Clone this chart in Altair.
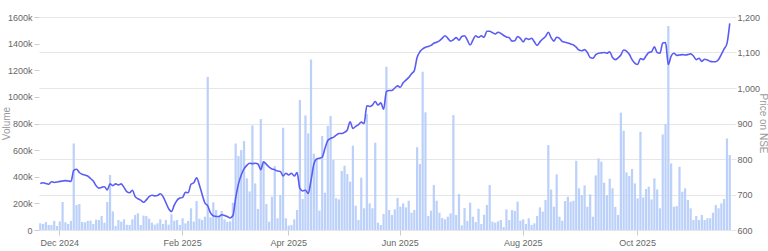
import altair as alt
import pandas as pd

# NSE trading calendar (first day, last day, exchange holidays)
first_day = "2024-11-21"
last_day = "2025-11-21"
holidays = ["2024-12-25", "2025-02-26", "2025-03-14", "2025-03-31", "2025-04-10",
            "2025-04-14", "2025-04-18", "2025-05-01", "2025-08-15", "2025-08-27",
            "2025-10-02", "2025-10-21", "2025-10-22", "2025-11-05"]

# daily traded volume, in thousands of shares
volume_k = [
    50, 45, 60, 38, 38, 68, 30, 65, 210, 58,
    45, 68, 650, 188, 195, 60, 58, 68, 70, 45,
    78, 75, 105, 55, 210, 413, 140, 30, 75, 63,
    80, 40, 38, 80, 113, 125, 38, 108, 105, 85,
    55, 40, 50, 80, 45, 75, 40, 118, 70, 75,
    38, 88, 50, 68, 163, 63, 218, 85, 75, 100,
    1150, 95, 208, 150, 100, 143, 80, 62, 65, 205,
    650, 555, 600, 668, 388, 290, 785, 350, 158, 833,
    515, 195, 63, 250, 480, 88, 263, 768, 88, 33,
    38, 80, 150, 976, 233, 861, 726, 1281, 573, 533,
    145, 706, 280, 781, 856, 526, 238, 230, 443, 483,
    420, 363, 633, 183, 75, 393, 163, 870, 200, 163,
    656, 55, 38, 120, 1226, 150, 113, 155, 240, 175,
    200, 170, 220, 130, 150, 621, 496, 1189, 884, 105,
    145, 338, 220, 130, 90, 80, 100, 125, 863, 113,
    270, 35, 165, 68, 205, 100, 60, 160, 45, 115,
    188, 338, 63, 55, 65, 75, 22, 155, 75, 150,
    143, 213, 70, 80, 45, 88, 38, 50, 105, 170,
    138, 225, 638, 305, 175, 418, 100, 70, 218, 250,
    213, 220, 520, 313, 263, 335, 175, 268, 100, 410,
    538, 513, 355, 263, 385, 313, 173, 113, 881, 746,
    433, 405, 458, 350, 238, 738, 245, 308, 325, 230,
    388, 305, 163, 718, 796, 1532, 500, 175, 180, 475,
    288, 313, 225, 163, 75, 105, 75, 113, 75, 88,
    88, 130, 188, 163, 200, 233, 688, 563,
]

# closing price on NSE
price = [
    731, 733, 731, 729, 736, 734, 735, 737, 738, 739,
    738, 737, 768, 771, 762, 757, 755, 752, 745, 738,
    725, 718, 720, 722, 713, 730, 725, 730, 727, 730,
    720, 708, 705, 712, 694, 688, 684, 678, 685, 694,
    698, 696, 697, 702, 694, 677, 660, 652, 670, 684,
    690, 692, 706, 705, 729, 733, 747, 727, 700, 676,
    668, 648, 640, 638, 638, 643, 641, 638, 634, 640,
    690, 730, 755, 772, 782, 788, 787, 788, 786, 770,
    792, 785, 777, 772, 770, 766, 765, 752, 760, 755,
    760, 752, 762, 717, 710, 712, 703, 740, 785, 800,
    802, 805, 830, 852, 858, 861, 867, 872, 872, 875,
    882, 905, 886, 892, 897, 904, 900, 950, 948, 952,
    962, 952, 958, 940, 990, 993, 993, 1000, 1006, 1002,
    1015, 1022, 1030, 1040, 1049, 1086, 1102, 1110, 1115, 1117,
    1120, 1126, 1129, 1133, 1140, 1147, 1140, 1132, 1136, 1142,
    1135, 1145, 1147, 1135, 1121, 1135, 1147, 1143, 1147, 1143,
    1160, 1160, 1156, 1152, 1157, 1154, 1148, 1144, 1142, 1132,
    1133, 1145, 1140, 1130, 1140, 1137, 1140, 1130, 1120, 1130,
    1138, 1145, 1157, 1142, 1132, 1143, 1140, 1131, 1129, 1127,
    1124, 1121, 1115, 1107, 1105, 1108, 1100, 1086, 1084, 1094,
    1098, 1099, 1100, 1098, 1102, 1086, 1080, 1085, 1093, 1107,
    1104, 1095, 1080, 1070, 1066, 1083, 1080, 1090, 1100, 1102,
    1116, 1100, 1098, 1127, 1128, 1066, 1090, 1098, 1092, 1093,
    1094, 1093, 1094, 1096, 1090, 1080, 1084, 1075, 1081, 1079,
    1075, 1074, 1074, 1080, 1095, 1110, 1125, 1182,
]

month_ticks = ["2024-12-02", "2025-02-03", "2025-04-01", "2025-06-02", "2025-08-01", "2025-10-01"]
volume_ticks = [0, 200, 400, 600, 800, 1000, 1200, 1400, 1600]
price_ticks = [600, 700, 800, 900, 1000, 1100, 1200]

days = [d.strftime("%Y-%m-%d") for d in pd.bdate_range(first_day, last_day)]
days = [d for d in days if d not in holidays]
n = min(len(days), len(volume_k), len(price))
df = pd.DataFrame({"date": days[:n], "volume": volume_k[:n], "price": price[:n]})

FONT = "Liberation Sans"
LABEL = "#666666"
TITLE = "#999999"
FS = 9

x = alt.X(
    "date:O",
    scale=alt.Scale(paddingInner=0.2, paddingOuter=0.05),
    axis=alt.Axis(
        values=month_ticks,
        labelExpr="utcFormat(toDate(datum.value), '%b %Y')",
        labelAngle=0, title=None, grid=False, domain=False,
        tickColor="#cccccc", tickSize=5, labelColor=LABEL, labelFontSize=FS,
        labelFont=FONT, labelPadding=3,
    ),
)

bars = alt.Chart(df).mark_bar(color="#bcd1fa").encode(
    x=x,
    y=alt.Y(
        "volume:Q",
        scale=alt.Scale(domain=[0, 1600], nice=False),
        axis=alt.Axis(
            orient="left", values=volume_ticks, grid=False, domain=False,
            labelExpr="datum.value == 0 ? '0' : datum.value + 'k'",
            tickColor="#cccccc", tickSize=5, labelColor=LABEL, labelFontSize=FS,
            labelFont=FONT, labelPadding=2,
            title="Volume", titleColor=TITLE, titleFont=FONT, titleFontSize=10,
            titleFontWeight="normal", titleX=-33, titleY=106, titleAngle=-90,
            titleAlign="center", titleBaseline="middle",
        ),
    ),
)

line = alt.Chart(df).mark_line(color="#5a5cf2", strokeWidth=1.6, interpolate="monotone").encode(
    x=x,
    y=alt.Y(
        "price:Q",
        scale=alt.Scale(domain=[600, 1200], nice=False, zero=False),
        axis=alt.Axis(
            orient="right", values=price_ticks, format=",d", grid=True,
            gridColor="#e6e6e6", domain=False, tickColor="#e6e6e6", tickSize=5,
            labelColor=LABEL, labelFontSize=FS, labelFont=FONT, labelPadding=1,
            title="Price on NSE", titleColor=TITLE, titleFont=FONT, titleFontSize=10,
            titleFontWeight="normal", titleX=31, titleY=106, titleAngle=90,
            titleAlign="center", titleBaseline="middle",
        ),
    ),
)

chart = alt.layer(bars, line).resolve_scale(y="independent").properties(
    width=692, height=213,
    autosize=alt.AutoSizeParams(type="none"),
    padding={"left": 39, "top": 17, "right": 37, "bottom": 21},
).configure_view(stroke=None)

chart.save("out.html", embed_options={"renderer": "svg", "actions": False})
